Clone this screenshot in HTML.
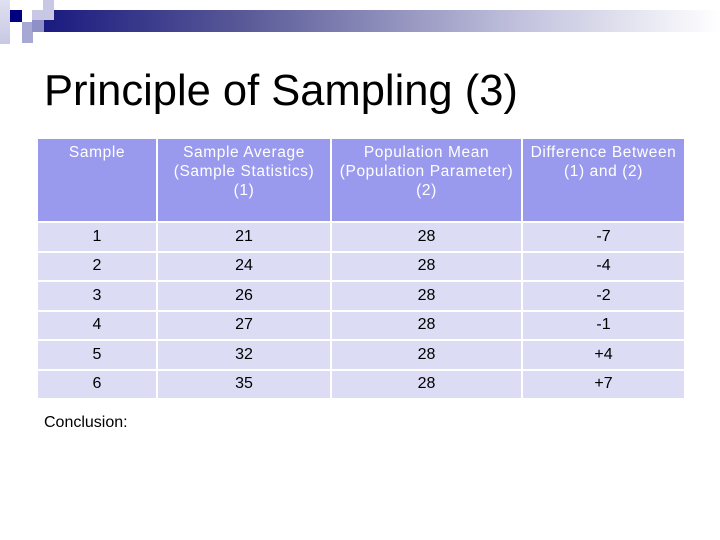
<!DOCTYPE html>
<html><head><meta charset="utf-8"><style>
body{margin:0;width:720px;height:540px;background:#fff;position:relative;overflow:hidden;font-family:"Liberation Sans",Arial,sans-serif}
.abs{position:absolute}
table{position:absolute;left:36px;top:137px;border-collapse:separate;border-spacing:2px;}
td{padding:0;text-align:center;font-size:16px;color:#000}
th{padding:0;background:#9999ee;color:#fff;font-weight:normal;font-size:15.5px;letter-spacing:0.6px;vertical-align:top;padding-top:4px;line-height:19px;height:78px;white-space:nowrap}
td{background:#dcdcf5;height:27.5px}
</style></head><body>
<div class="abs" style="left:43px;top:10px;width:677px;height:22px;background:linear-gradient(90deg,#1a1a80,#5a5a98 30%,#c0c0dd 70%,#fff)"></div>
<div class="abs" style="left:10px;top:10px;width:12px;height:12px;background:#000080"></div>
<div class="abs" style="left:0;top:0;width:10px;height:44px;background:linear-gradient(#e0e0f0,#c8c8e4)"></div>
<div class="abs" style="left:32px;top:10px;width:22px;height:10px;background:#c8c8e4"></div>
<div class="abs" style="left:43px;top:0;width:11px;height:10px;background:#c8c8e4"></div>
<div class="abs" style="left:22px;top:22px;width:11px;height:21px;background:#a8a8d4"></div>
<div class="abs" style="left:32px;top:20px;width:12px;height:12px;background:#9090c8"></div>
<div class="abs" style="left:44px;top:67px;font-size:43.5px;color:#000">Principle of Sampling (3)</div>
<table>
<tr><th style="width:118px">Sample</th><th style="width:172px">Sample Average<br>(Sample Statistics)<br>(1)</th><th style="width:189px">Population Mean<br>(Population Parameter)<br>(2)</th><th style="width:161px">Difference Between<br>(1) and (2)</th></tr>
<tr><td>1</td><td>21</td><td>28</td><td>-7</td></tr>
<tr><td>2</td><td>24</td><td>28</td><td>-4</td></tr>
<tr><td>3</td><td>26</td><td>28</td><td>-2</td></tr>
<tr><td>4</td><td>27</td><td>28</td><td>-1</td></tr>
<tr><td>5</td><td>32</td><td>28</td><td>+4</td></tr>
<tr><td>6</td><td>35</td><td>28</td><td>+7</td></tr>
</table>
<div class="abs" style="left:44px;top:414px;font-size:16px">Conclusion:</div>
</body></html>
